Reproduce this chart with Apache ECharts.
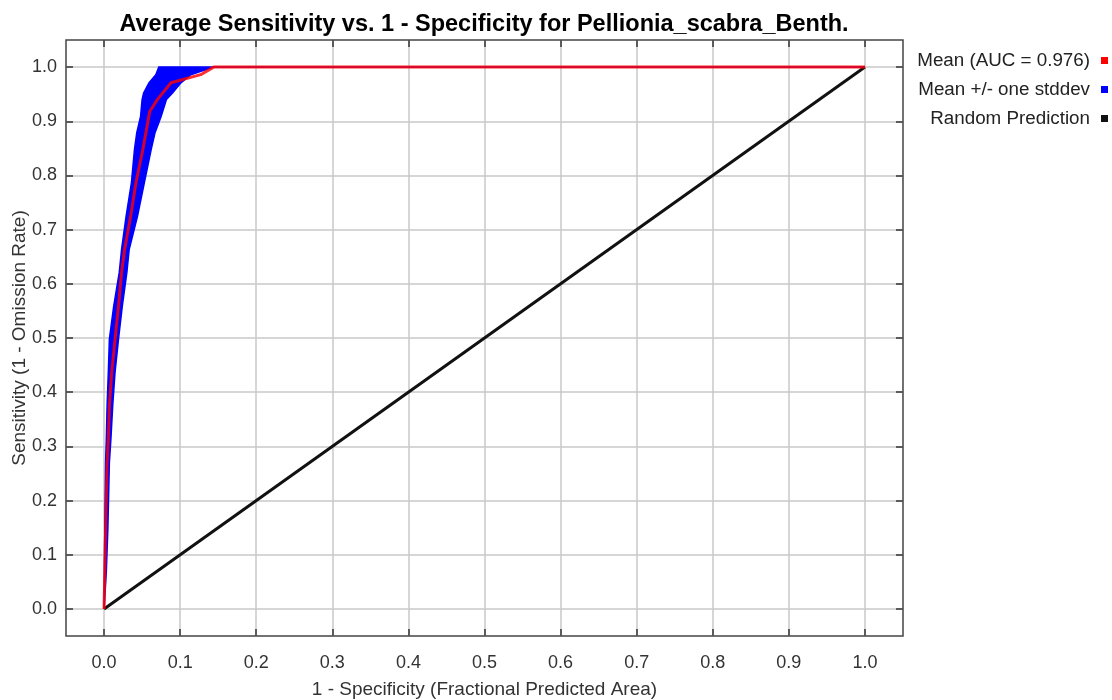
<!DOCTYPE html>
<html>
<head>
<meta charset="utf-8">
<script src="https://cdn.jsdelivr.net/npm/echarts@6/dist/echarts.min.js"></script>
<style>
html,body{margin:0;padding:0;background:#fff;}
#chart{width:1112px;height:700px;}
</style>
</head>
<body>
<div id="chart"></div>
<script>
// ---- data ----
var titleText = 'Average Sensitivity vs. 1 - Specificity for Pellionia_scabra_Benth.';
var xAxisName = '1 - Specificity (Fractional Predicted Area)';
var yAxisName = 'Sensitivity (1 - Omission Rate)';
var tickValues = [0, 0.1, 0.2, 0.3, 0.4, 0.5, 0.6, 0.7, 0.8, 0.9, 1.0];
var seriesNames = ['Mean (AUC = 0.976)', 'Mean +/- one stddev', 'Random Prediction'];

// mean ROC curve
var meanX = [0, 0.001, 0.002, 0.003, 0.004, 0.0056, 0.007, 0.010, 0.0145, 0.019, 0.023, 0.027, 0.035, 0.042, 0.051, 0.055, 0.060, 0.070, 0.088, 0.127, 0.144, 1.0];
var meanY = [0, 0.068, 0.147, 0.209, 0.270, 0.313, 0.375, 0.436, 0.498, 0.559, 0.621, 0.663, 0.725, 0.787, 0.848, 0.879, 0.918, 0.940, 0.971, 0.986, 1.0, 1.0];

// stddev band: sensitivity levels with left (mean+sd) and right (mean-sd) edges
var bandY      = [0, 0.068, 0.147, 0.209, 0.270, 0.313, 0.375, 0.436, 0.498, 0.559, 0.621, 0.663, 0.725, 0.787, 0.848, 0.879, 0.909, 0.940, 0.952, 0.971, 0.986, 1.0, 1.0];
var bandLeftX  = [0, 0.0005, 0.001, 0.0015, 0.002, 0.003, 0.004, 0.0056, 0.007, 0.0127, 0.020, 0.023, 0.029, 0.036, 0.040, 0.043, 0.048, 0.050, 0.052, 0.059, 0.068, 0.072, 1.0];
var bandRightX = [0, 0.003, 0.005, 0.006, 0.007, 0.009, 0.0114, 0.0144, 0.019, 0.024, 0.030, 0.033, 0.044, 0.053, 0.062, 0.067, 0.075, 0.082, 0.090, 0.101, 0.114, 0.144, 1.0];

// random prediction diagonal
var randomX = [0, 1];
var randomY = [0, 1];

// ---- build ----
function zip(xs, ys) { return xs.map(function (x, i) { return [x, ys[i]]; }); }
var bandPoly = zip(bandLeftX, bandY).concat(zip(bandRightX, bandY).reverse());

var FONT = "'Liberation Sans', Arial, sans-serif";
var axisCommon = {
  type: 'value', min: -0.05, max: 1.05,
  axisLine: { show: false, onZero: false },
  axisTick: { show: true, inside: true, length: 7, customValues: tickValues, lineStyle: { color: '#333', width: 1.5 } },
  splitLine: { show: false }
};
function mkAxis(extra) { return Object.assign({}, JSON.parse(JSON.stringify(axisCommon)), extra); }

var option = {
  animation: false,
  backgroundColor: '#fff',
  title: {
    text: titleText, left: 479, top: 8, textAlign: 'center',
    textStyle: { fontFamily: FONT, fontSize: 23.5, fontWeight: 'bold', color: '#000' }
  },
  grid: { left: 66, right: 209, top: 40, bottom: 64, show: true, borderColor: '#444', borderWidth: 1.5, backgroundColor: '#fff', outerBoundsMode: 'none', containLabel: false },
  legend: seriesNames.map(function (n, i) {
    return {
      data: [n], right: 4, top: [51, 80, 109][i], orient: 'vertical', align: 'right',
      itemWidth: 7, itemHeight: 7, icon: 'rect', selectedMode: false, padding: 0,
      textStyle: { fontFamily: FONT, fontSize: 18.8, color: '#222', padding: [0, 6, 0, 0] }
    };
  }),
  xAxis: [
    mkAxis({
      position: 'bottom', name: xAxisName, nameLocation: 'middle', nameGap: 44, nameMoveOverlap: false,
      nameTextStyle: { fontFamily: FONT, fontSize: 19, color: '#333' },
      axisLabel: { show: true, customValues: tickValues, margin: 18, fontFamily: FONT, fontSize: 18, color: '#333', formatter: function (v) { return v.toFixed(1); } },
      splitLine: { show: true, lineStyle: { color: '#c8c8c8', width: 1.5 } }
    }),
    mkAxis({ position: 'top', axisLabel: { show: false } })
  ],
  yAxis: [
    mkAxis({
      position: 'left', name: yAxisName, nameLocation: 'middle', nameGap: 37, nameMoveOverlap: false,
      nameTextStyle: { fontFamily: FONT, fontSize: 19, color: '#333' },
      axisLabel: { show: true, customValues: tickValues, margin: 9, fontFamily: FONT, fontSize: 18, color: '#333', formatter: function (v) { return v.toFixed(1); } },
      splitLine: { show: true, lineStyle: { color: '#c8c8c8', width: 1.5 } }
    }),
    mkAxis({ position: 'right', axisLabel: { show: false } })
  ],
  series: [
    {
      name: seriesNames[1], type: 'custom', xAxisIndex: 0, yAxisIndex: 0, z: 2,
      itemStyle: { color: '#0000ff' },
      data: bandPoly,
      encode: { x: 0, y: 1 },
      renderItem: function (params, api) {
        if (params.dataIndex !== 0) return null;
        var pts = bandPoly.map(function (p) { return api.coord(p); });
        return { type: 'polygon', shape: { points: pts }, style: { fill: '#0000ff', stroke: '#0000ff', lineWidth: 1.5 } };
      }
    },
    {
      name: seriesNames[2], type: 'line', z: 3, showSymbol: false, symbol: 'none',
      itemStyle: { color: '#111' },
      lineStyle: { color: '#111', width: 3 },
      data: zip(randomX, randomY)
    },
    {
      name: seriesNames[0], type: 'line', z: 4, showSymbol: false, symbol: 'none',
      itemStyle: { color: '#ff0000' },
      lineStyle: { color: '#ff0000', width: 3, opacity: 0.82 },
      data: zip(meanX, meanY)
    }
  ]
};
var chart = echarts.init(document.getElementById('chart'), null, { renderer: 'canvas' });
chart.setOption(option);
</script>
</body>
</html>
